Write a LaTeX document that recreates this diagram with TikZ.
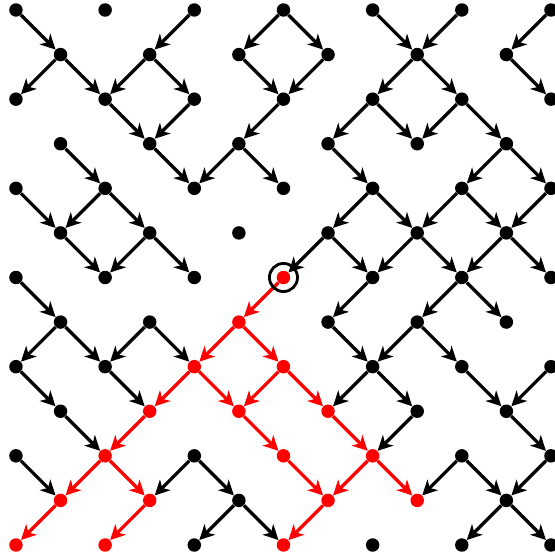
\documentclass[tikz,border=0pt]{standalone}
\usepackage{tikz}
\usetikzlibrary{arrows.meta}
\usepackage{xcolor}

\begin{document}
\begin{tikzpicture}[x=1cm,y=1cm,
  dot/.style={circle,fill=black,inner sep=0pt,minimum size=8.6pt},
  rdot/.style={dot,fill=red},
  edge/.style={-{Stealth[length=9.5pt,width=9.5pt,inset=2.8pt]},line width=2.1pt,black},
  redge/.style={edge,red},
  ring/.style={circle,draw=black,line width=1.8pt,inner sep=0pt,minimum size=0.63cm}]
  \useasboundingbox (-0.358,0.224) rectangle (12.072,-12.314);
  % descendants of the marked site
  \foreach \s in {6-6,5-7,4-8,6-8,3-9,5-9,7-9,2-10,6-10,8-10,
                  1-11,3-11,7-11,9-11,0-12,2-12,6-12}
    {\expandafter\gdef\csname isred\s\endcsname{}}
  % lattice sites
  \foreach \r in {0,...,12}
    \foreach \c in {0,...,12} {
      \pgfmathtruncatemacro\odd{mod(\c+\r,2)}
      \ifnum\odd=0
        \ifcsname isred\c-\r\endcsname
          \node[rdot] (n\c-\r) at (\c,-\r) {};
        \else
          \node[dot] (n\c-\r) at (\c,-\r) {};
        \fi
      \fi
    }
  % black bonds
  \foreach \s/\t in {0-0/1-1, 4-0/3-1, 6-0/5-1, 6-0/7-1, 8-0/9-1, 10-0/9-1, 12-0/11-1,
      1-1/0-2, 1-1/2-2, 3-1/2-2, 3-1/4-2, 5-1/6-2, 7-1/6-2, 9-1/8-2, 9-1/10-2, 11-1/12-2,
      2-2/3-3, 4-2/3-3, 6-2/5-3, 8-2/7-3, 8-2/9-3, 10-2/9-3, 10-2/11-3,
      1-3/2-4, 3-3/4-4, 5-3/4-4, 5-3/6-4, 7-3/8-4, 11-3/10-4, 11-3/12-4,
      0-4/1-5, 2-4/1-5, 2-4/3-5, 8-4/7-5, 8-4/9-5, 10-4/9-5, 10-4/11-5, 12-4/11-5,
      1-5/2-6, 3-5/2-6, 3-5/4-6, 7-5/6-6, 7-5/8-6, 9-5/8-6, 9-5/10-6, 11-5/10-6, 11-5/12-6,
      0-6/1-7, 8-6/7-7, 10-6/9-7, 10-6/11-7,
      1-7/0-8, 1-7/2-8, 3-7/2-8, 3-7/4-8, 7-7/8-8, 9-7/8-8, 9-7/10-8,
      0-8/1-9, 2-8/3-9, 8-8/7-9, 8-8/9-9, 10-8/11-9, 12-8/11-9,
      1-9/2-10, 9-9/8-10, 11-9/12-10,
      0-10/1-11, 4-10/3-11, 4-10/5-11, 10-10/9-11, 10-10/11-11, 12-10/11-11,
      5-11/4-12, 5-11/6-12, 11-11/10-12, 11-11/12-12}
    \draw[edge] (n\s) -- (n\t);
  % red bonds
  \foreach \s/\t in {6-6/5-7, 5-7/4-8, 5-7/6-8, 4-8/3-9, 4-8/5-9, 6-8/5-9, 6-8/7-9,
      3-9/2-10, 5-9/6-10, 7-9/8-10, 2-10/1-11, 2-10/3-11, 6-10/7-11, 8-10/7-11,
      8-10/9-11, 1-11/0-12, 3-11/2-12, 7-11/6-12}
    \draw[redge] (n\s) -- (n\t);
  \node[ring] (start) at (n6-6) {};
\end{tikzpicture}
\end{document}
